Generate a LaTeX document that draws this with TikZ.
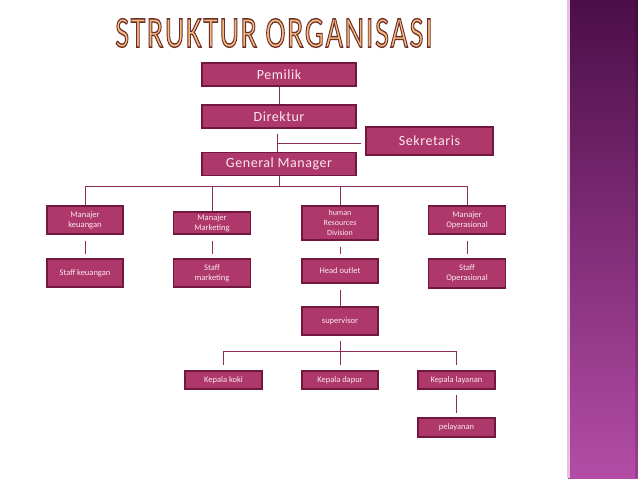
\documentclass[tikz,border=0pt]{standalone}
\usepackage{fontspec}
\setmainfont{Carlito}
\usepackage{xcolor}
\usepackage{tikz}
\usetikzlibrary{positioning, calc}
\definecolor{boxfill}{HTML}{AE386A}
\definecolor{boxline}{HTML}{72173F}
\definecolor{linkcol}{HTML}{8A2C57}
\definecolor{boxtext}{HTML}{FAE8F0}
\definecolor{titlefill}{HTML}{F5BC80}
\definecolor{bartop}{HTML}{4C0E48}
\definecolor{barbot}{HTML}{B44CA6}
\newfontfamily\titlefont[LetterSpace=6, FakeBold=3]{Carlito}

\begin{document}
\begin{tikzpicture}[x=1pt, y=-1pt,
  obox/.style={draw=boxline, fill=boxfill, line width=1.2pt, text=boxtext,
               inner sep=0pt, align=center, font=\fontsize{8.5}{10}\selectfont},
  bigbox/.style={obox, minimum width=154pt, minimum height=23pt,
                 font=\fontsize{14}{16}\selectfont\addfontfeature{LetterSpace=4}},
  link/.style={draw=linkcol, line width=0.8pt}
]
\useasboundingbox (0,0) rectangle (638,479);
\fill[white] (0,0) rectangle (638,479);

% ---- side bar -----------------------------------------------------------
\shade[top color=bartop, bottom color=barbot] (568,0) rectangle (638,478);
\fill[barbot!35!white] (567,0) rectangle (569.5,478);
\fill[black, opacity=0.15] (635,0) rectangle (638,478);

% ---- title --------------------------------------------------------------
% brown stroke round orange letters
\node[inner sep=0pt] (title) at (274,33)
  {\scalebox{0.68}[1]{\color{titlefill}\special{pdf:literal direct 0.42 0.18 0.16 RG}%
   \fontsize{44}{44}\titlefont STRUKTUR ORGANISASI}};

% ---- top of the chart ---------------------------------------------------
\node[bigbox] (pemilik) at (279,74.5) {Pemilik};
\node[bigbox] (direktur) at (279,116.5) {Direktur};
\node[bigbox] (gm) at (279,164) {General Manager};
\node[bigbox, minimum width=127pt, minimum height=28pt] (sekretaris) at (429.5,141) {Sekretaris};

\draw[link] (pemilik) -- (direktur);
\coordinate (dgm) at (277,143);
\draw[link, shorten <=5pt] (direktur.south -| dgm) -- (gm.north -| dgm);
\draw[link, shorten >=4pt] (dgm) -- (sekretaris.west |- dgm);

% ---- managers -----------------------------------------------------------
\node[obox, minimum width=76pt, minimum height=28pt] (mk) at (85,220) {Manajer\\keuangan};
\node[obox, minimum width=77pt, minimum height=22pt] (mm) at (212,223) {Manajer\\Marketing};
\node[obox, minimum width=76pt, minimum height=34pt, font=\fontsize{8}{10}\selectfont]
  (hrd) at (340,223) {human\\Resources\\Division};
\node[obox, minimum width=77pt, minimum height=28pt] (mo) at (467,220) {Manajer\\Operasional};

\coordinate (gmbus) at (279,186);
\draw[link] (gm) -- (gmbus);
\draw[link] (mk.north |- gmbus) -- (mo.north |- gmbus);
\foreach \n in {mk, mm, hrd, mo}
  \draw[link] (\n.north |- gmbus) -- (\n.north);

% ---- staff --------------------------------------------------------------
\node[obox, minimum width=76pt, minimum height=28pt] (sk) at (85,273) {Staff keuangan};
\node[obox, minimum width=77pt, minimum height=28pt] (sm) at (212,273) {Staff\\marketing};
\node[obox, minimum width=76pt, minimum height=24pt] (ho) at (340,271) {Head outlet};
\node[obox, minimum width=77pt, minimum height=29pt] (so) at (467,273.5) {Staff\\Operasional};

\foreach \a/\b in {mk/sk, mm/sm, hrd/ho, mo/so}
  \draw[link, shorten <=6pt, shorten >=4pt] (\a) -- (\b);

% ---- outlet -------------------------------------------------------------
\node[obox, minimum width=76pt, minimum height=28pt] (sup) at (340,321) {supervisor};
\draw[link, shorten <=6pt] (ho) -- (sup);

\node[obox, minimum width=77pt, minimum height=18pt] (kk) at (223.5,380) {Kepala koki};
\node[obox, minimum width=76pt, minimum height=18pt] (kd) at (340,380) {Kepala dapur};
\node[obox, minimum width=77pt, minimum height=18pt] (kl) at (456.5,380) {Kepala layanan};
\node[obox, minimum width=77pt, minimum height=19pt] (pel) at (456.5,427.5) {pelayanan};

\coordinate (supbus) at (340,351);
\draw[link, shorten <=5pt] (sup) -- (supbus);
\draw[link] (kk.north |- supbus) -- (kl.north |- supbus);
\foreach \n in {kk, kd, kl}
  \draw[link, shorten >=5pt] (\n.north |- supbus) -- (\n.north);
\draw[link, shorten <=5pt, shorten >=4pt] (kl) -- (pel);
\end{tikzpicture}
\end{document}
